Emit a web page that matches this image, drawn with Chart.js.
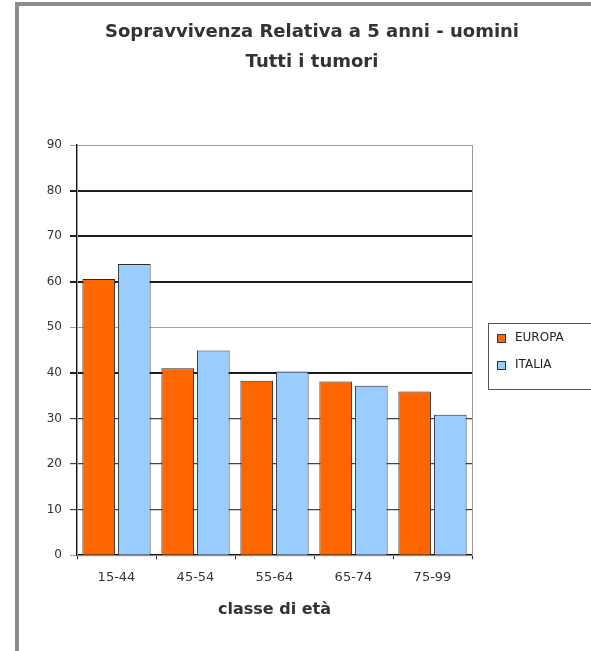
<!DOCTYPE html>
<html>
<head>
<meta charset="utf-8">
<script src="https://cdn.jsdelivr.net/npm/chart.js@4.4.1/dist/chart.umd.min.js"></script>
<style>
  html, body { margin: 0; padding: 0; background: #ffffff; overflow: hidden; }
  #frame {
    position: absolute; left: 15px; top: 2px;
    width: 620px; height: 700px;
    border-left: 4px solid #8c8c8c; border-top: 4px solid #8c8c8c;
    background: #ffffff;
  }
  #wrap { position: absolute; left: 0; top: 0; width: 586px; height: 645px; }
</style>
</head>
<body>
<div id="frame"><div id="wrap"><canvas id="c"></canvas></div></div>
<script>
// Age classes and 5-year relative survival (%) for men, all cancers
const categories = ['15-44', '45-54', '55-64', '65-74', '75-99'];
const europa = [60.6, 41.0, 38.3, 38.1, 35.9];
const italia = [63.9, 44.9, 40.3, 37.2, 30.8];
const seriesNames = ['EUROPA', 'ITALIA'];
const titleLines = ['Sopravvivenza Relativa a 5 anni - uomini', 'Tutti i tumori'];
const xAxisTitle = 'classe di età';
const yMin = 0, yMax = 90, yStep = 10;

const FONT = "'DejaVu Sans', 'Liberation Sans', sans-serif";

// Thin grey frame around the plot area
const plotFrame = {
  id: 'plotFrame',
  beforeDatasetsDraw(chart) {
    const a = chart.chartArea, ctx = chart.ctx;
    ctx.save();
    ctx.strokeStyle = '#9a9a9a';
    ctx.lineWidth = 1;
    ctx.strokeRect(a.left + 0.5, a.top + 0.5, a.right - a.left, a.bottom - a.top);
    ctx.restore();
  }
};

// Boxed legend in the space reserved right of the plot
const boxedLegend = {
  id: 'boxedLegend',
  afterDraw(chart) {
    const ctx = chart.ctx, a = chart.chartArea;
    const x0 = a.right + 16, y0 = 317;
    const rowH = 27;
    ctx.save();
    ctx.strokeStyle = '#555';
    ctx.lineWidth = 1;
    ctx.strokeRect(x0 + 0.5, y0 + 0.5, 140, 12 + rowH * chart.data.datasets.length);
    ctx.font = '12px ' + FONT;
    ctx.textBaseline = 'middle';
    chart.data.datasets.forEach((ds, i) => {
      const cy = y0 + 15 + i * rowH;
      ctx.fillStyle = ds.backgroundColor;
      ctx.fillRect(x0 + 9, cy - 4, 8, 8);
      ctx.strokeStyle = '#333';
      ctx.strokeRect(x0 + 9.5, cy - 3.5, 8, 8);
      ctx.fillStyle = '#222';
      ctx.fillText(ds.label, x0 + 27, cy);
    });
    ctx.restore();
  }
};

function gridStyle(value) {
  // heavier lines on the main reference levels
  return [80, 70, 60, 40].includes(value) ? { c: '#1e1e1e', w: 2 } :
         [30, 20, 10].includes(value) ? { c: '#444', w: 1.2 } :
         { c: '#a0a0a0', w: 1 };
}

new Chart(document.getElementById('c'), {
  type: 'bar',
  data: {
    labels: categories,
    datasets: [
      { label: seriesNames[0], data: europa, backgroundColor: '#FF6600', borderColor: '#2b2b2b', borderWidth: 1 },
      { label: seriesNames[1], data: italia, backgroundColor: '#99CCFF', borderColor: '#2b2b2b', borderWidth: 1 }
    ]
  },
  options: {
    responsive: true,
    maintainAspectRatio: false,
    animation: false,
    layout: { padding: { left: 0, right: 0, top: 0, bottom: 28 } },
    datasets: { bar: { categoryPercentage: 0.9, barPercentage: 0.92 } },
    plugins: {
      legend: { display: false },
      tooltip: { enabled: false },
      title: {
        display: true,
        text: titleLines,
        color: '#333',
        font: { family: FONT, size: 18, weight: 'bold', lineHeight: 1.667 },
        padding: { top: 11, bottom: 68 }
      }
    },
    scales: {
      x: {
        grid: { display: true, offset: true, drawOnChartArea: false, drawTicks: true, tickLength: 4, color: '#222' },
        border: { display: true, color: '#111', width: 1.5 },
        ticks: { color: '#333', font: { family: FONT, size: 13 }, padding: 11 },
        title: { display: true, text: xAxisTitle, color: '#333', font: { family: FONT, size: 16, weight: 'bold' }, padding: { top: 3 } }
      },
      y: {
        min: yMin, max: yMax,
        afterFit: s => { s.width = 58; },
        grid: {
          drawTicks: true, tickLength: 7,
          color: ctx => gridStyle(ctx.tick.value).c,
          lineWidth: ctx => gridStyle(ctx.tick.value).w
        },
        border: { display: true, color: '#111', width: 1.5 },
        ticks: { stepSize: yStep, color: '#333', font: { family: FONT, size: 12 }, padding: 8 }
      },
      // empty right-hand axis: holds the room where the legend sits
      legendRoom: {
        type: 'linear', position: 'right', display: true,
        afterFit: s => { s.width = 133; },
        grid: { display: false, drawOnChartArea: false },
        border: { display: false },
        ticks: { display: false }
      }
    }
  },
  plugins: [plotFrame, boxedLegend]
});
</script>
</body>
</html>
